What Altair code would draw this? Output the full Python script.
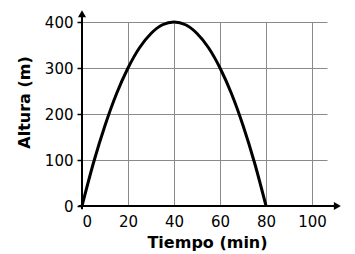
import altair as alt
import pandas as pd

# Values
tiempo = [0, 5, 10, 15, 20, 25, 30, 35, 40, 45, 50, 55, 60, 65, 70, 75, 80]
altura = [0, 94, 175, 244, 300, 344, 375, 394, 400, 394, 375, 344, 300, 244, 175, 94, 0]
x_ticks = [0, 20, 40, 60, 80, 100]
y_ticks = [0, 100, 200, 300, 400]

df = pd.DataFrame({"t": tiempo, "h": altura})

FONT = "DejaVu Sans"
xs = alt.Scale(domain=[0, 106.5], nice=False, zero=False)
ys = alt.Scale(domain=[0, 400], nice=False, zero=False)

curve = alt.Chart(df).mark_line(
    color="black", strokeWidth=3, interpolate="monotone", clip=False
).encode(
    x=alt.X("t:Q", scale=xs, axis=alt.Axis(
        values=x_ticks, grid=True, gridColor="#8a8a8a", gridWidth=1,
        domain=False, ticks=False, labelFont=FONT, labelFontSize=15,
        labelColor="black", labelPadding=8,
        title="Tiempo (min)", titleFont=FONT, titleFontSize=16,
        titleFontWeight="bold", titleColor="black",
        titleX=125, titleY=36, titleBaseline="middle")),
    y=alt.Y("h:Q", scale=ys, axis=alt.Axis(
        values=y_ticks, grid=True, gridColor="#8a8a8a", gridWidth=1,
        domain=False, ticks=True, tickSize=5, tickColor="black", tickWidth=1.5,
        labelFont=FONT, labelFontSize=15, labelColor="black", labelPadding=4,
        title="Altura (m)", titleFont=FONT, titleFontSize=16,
        titleFontWeight="bold", titleColor="black",
        titleX=-58, titleY=80, titleBaseline="middle", titleAngle=270)),
)

xaxis = alt.Chart().mark_rule(color="black", strokeWidth=2).encode(
    x=alt.datum(-1.5, scale=xs), x2=alt.datum(110), y=alt.datum(0, scale=ys)
)
yaxis = alt.Chart().mark_rule(color="black", strokeWidth=2).encode(
    y=alt.datum(-7, scale=ys), y2=alt.datum(415), x=alt.datum(0, scale=xs)
)
xarrow = alt.Chart().mark_point(
    shape="triangle-right", filled=True, color="black", size=65, opacity=1
).encode(x=alt.datum(111, scale=xs), y=alt.datum(0, scale=ys))
yarrow = alt.Chart().mark_point(
    shape="triangle-up", filled=True, color="black", size=65, opacity=1
).encode(x=alt.datum(0, scale=xs), y=alt.datum(418, scale=ys))

chart = alt.layer(curve, xaxis, yaxis, xarrow, yarrow).properties(
    width=245, height=184,
    autosize=alt.AutoSizeParams(type="none"),
    padding={"left": 82, "top": 22, "right": 28, "bottom": 48},
).configure_view(stroke=None)

chart.save("out.html", embed_options={"renderer": "svg", "actions": False})
